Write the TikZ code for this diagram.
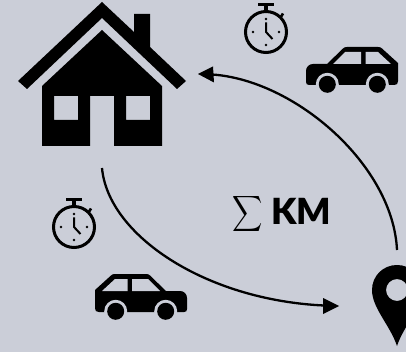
\documentclass[tikz,border=0pt]{standalone}
\usepackage{fontspec}
\setsansfont[BoldFont={Lato Black}]{Lato}
\definecolor{bgc}{HTML}{CBCED8}
\tikzset{
  x=1pt,y=-1pt,
  iconfill/.style={fill=black,draw=none},
  hole/.style={fill=bgc,draw=none},
  conn/.style={draw=black,line width=2.3pt},
  headtip/.style={fill=black,draw=none},
  car/.pic={
    \fill[black] (7,17) -- (21,17) -- (37,1.5) .. controls (38,0.5) and (39,0) .. (41,0) -- (72,0) .. controls (74,0) and (75,0.5) .. (76,1.5) -- (92,16) -- (92,34) .. controls (92,37) and (91,38) .. (88,38) -- (3,38) .. controls (1,38) and (0,37) .. (0,35) -- (0,24) .. controls (0,20) and (3,17) .. (7,17) -- cycle;
    \fill[hole] (27,17) -- (39,5) -- (55,5) -- (55,17) -- cycle;
    \fill[hole] (59.5,5) -- (72,5) -- (85,17) -- (59.5,17) -- cycle;
    \foreach \cx in {21.3,71.3}{
      \fill[hole] (\cx,37.3) circle (11.5);
      \fill[black] (\cx,37.3) circle (8.5);
    }
  },
  watch/.pic={
    \draw[black,line width=3pt] (0,0) circle (20.5);
    \fill[black] (-8,-29) rectangle (8,-25.5);
    \fill[black] (-2,-26) rectangle (2,-21);
    \draw[black,line width=2.6pt] (14.5,-14.5) -- (17,-18.5);
    \fill[black] (0,-13) circle (1.4) (13,0) circle (1.4) (0,13) circle (1.4) (-13,0) circle (1.4);
    \draw[black,line width=2pt] (0,-9.5) -- (0,0) -- (6.5,7);
  },
}
\begin{document}
\begin{tikzpicture}
\useasboundingbox (0,0) rectangle (406,352);
\clip (0,0) rectangle (406,352);
\fill[bgc] (0,0) rectangle (406,352);
% house
\fill[iconfill] (102,2) -- (18,81) -- (27,89) -- (102,18) -- (177,89) -- (186,81) -- (150,47) -- (150,14) -- (134,14) -- (134,32) -- cycle;
\fill[iconfill,even odd rule] (102,30) -- (42,86) -- (42,146) -- (90,146) -- (90,96) -- (114,96) -- (114,146) -- (162,146) -- (162,86) -- cycle
  (54,96) rectangle (78,120) (126,96) rectangle (150,120);
% pin
\fill[iconfill,even odd rule] (397,346) .. controls (390,325) and (372,308) .. (372,290) .. controls (372,276) and (383,265) .. (397,265) .. controls (411,265) and (422,276) .. (422,290) .. controls (422,308) and (404,325) .. (397,346) -- cycle
  (397,290) circle (11);
% icons
\pic at (266,32) {watch};
\pic at (74,227) {watch};
\pic at (306,47) {car};
\pic[xscale=-1] at (187,274) {car};
% connectors
\coordinate (pinTop) at (397,250);
\coordinate (houseEast) at (198,74);
\coordinate (houseBase) at (102,168);
\coordinate (pinWest) at (339,306);
\coordinate (headA) at (212,74.5);
\coordinate (headB) at (324,305.5);
\draw[conn] (pinTop) .. controls (393,165) and (295,80) .. (headA);
\fill[headtip] (houseEast) -- (213,66.5) -- (214,82.5) -- cycle;
\draw[conn] (houseBase) .. controls (108,235) and (205,300) .. (headB);
\fill[headtip] (pinWest) -- (323,298) -- (323,314) -- cycle;
% label
\node[inner sep=0pt,anchor=center] (sumSign) at (248,214.5) {\scalebox{2.1}[2.5]{$\displaystyle\sum$}};
\node[inner sep=0pt,anchor=west,font={\sffamily\bfseries\fontsize{36pt}{38pt}\selectfont}] (kmLabel) at (271,211) {KM};
\end{tikzpicture}
\end{document}
